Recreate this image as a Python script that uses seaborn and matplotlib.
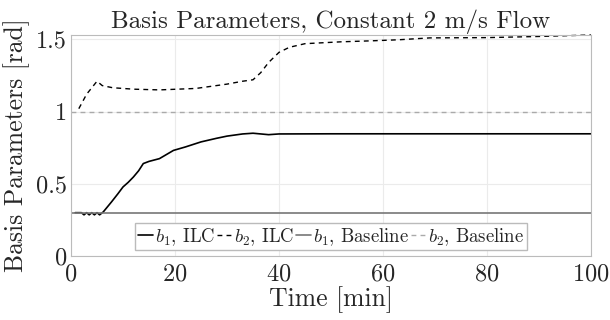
import seaborn as sns
import pandas as pd
import matplotlib.pyplot as plt

sns.set_style("whitegrid")
plt.rcParams['font.family'] = 'serif'
plt.rcParams['font.serif'] = ['cmr10', 'DejaVu Serif']
plt.rcParams['mathtext.fontset'] = 'cm'
plt.rcParams['axes.formatter.use_mathtext'] = True

# b1, ILC (solid black)
t_b1_ilc = [0.8, 2.0, 2.5, 3.0, 3.5, 4.0, 4.5, 5.0, 5.5, 6.2, 7.0, 7.8, 9.0, 10.0, 11.0, 12.0,
            13.0, 13.9, 15.0, 17.0, 19.7, 22.0, 25.0, 28.0, 30.0, 33.0, 35.0, 38.0, 40.0, 50.0,
            60.0, 70.0, 80.0, 90.0, 100.0]
y_b1_ilc = [0.30, 0.30, 0.285, 0.30, 0.285, 0.30, 0.285, 0.30, 0.285, 0.305, 0.34, 0.375, 0.43,
            0.478, 0.51, 0.547, 0.59, 0.64, 0.655, 0.674, 0.731, 0.755, 0.79, 0.815, 0.83, 0.845,
            0.85, 0.84, 0.845, 0.846, 0.846, 0.846, 0.846, 0.846, 0.846]

# b2, ILC (dashed black)
t_b2_ilc = [1.5, 3.0, 5.0, 6.0, 8.0, 12.0, 17.0, 24.0, 30.0, 33.0, 35.0, 36.5, 38.0, 40.0,
            42.0, 45.0, 52.0, 58.0, 63.0, 69.0, 80.0, 90.0, 100.0]
y_b2_ilc = [1.02, 1.12, 1.21, 1.18, 1.165, 1.155, 1.15, 1.16, 1.19, 1.21, 1.22, 1.27, 1.34, 1.41,
            1.445, 1.47, 1.483, 1.49, 1.497, 1.51, 1.512, 1.52, 1.53]

# baselines
t_base = [0.0, 100.0]
y_b1_base = [0.3, 0.3]
y_b2_base = [1.0, 1.0]

df_b1 = pd.DataFrame({'t': t_b1_ilc, 'v': y_b1_ilc})
df_b2 = pd.DataFrame({'t': t_b2_ilc, 'v': y_b2_ilc})
df_b1b = pd.DataFrame({'t': t_base, 'v': y_b1_base})
df_b2b = pd.DataFrame({'t': t_base, 'v': y_b2_base})

fig = plt.figure(figsize=(6.1, 3.2), dpi=100)
ax = fig.add_axes([0.1164, 0.2, 0.8525, 0.6906])

sns.lineplot(data=df_b1, x='t', y='v', ax=ax, color='black', lw=1.2, label='$b_1$, ILC')
sns.lineplot(data=df_b2, x='t', y='v', ax=ax, color='black', lw=1.0, linestyle=(0, (3.5, 3)),
             label='$b_2$, ILC', clip_on=False)
sns.lineplot(data=df_b1b, x='t', y='v', ax=ax, color='#777777', lw=1.2, label='$b_1$, Baseline')
sns.lineplot(data=df_b2b, x='t', y='v', ax=ax, color='#aaaaaa', lw=1.0, linestyle=(0, (3.5, 3)),
             label='$b_2$, Baseline')

ax.set_xlim(0, 100)
ax.set_ylim(0, 1.53)
ax.set_xticks([0, 20, 40, 60, 80, 100])
ax.set_yticks([0, 0.5, 1, 1.5])
ax.set_yticklabels(['0', '0.5', '1', '1.5'])
ax.tick_params(labelsize=17.5, direction='in', length=3, color='#bbbbbb')
ax.tick_params(axis='x', pad=5)
ax.tick_params(axis='y', pad=3)
ax.grid(True, color='#ebebeb', lw=0.8)
for s in ax.spines.values():
    s.set_color('#bbbbbb')
    s.set_linewidth(0.8)

ax.set_title('Basis Parameters, Constant 2 m/s Flow', fontsize=18, pad=5)
ax.set_xlabel('Time [min]', fontsize=18.5, labelpad=1)
ax.set_ylabel('Basis Parameters [rad]', fontsize=18.5, labelpad=4)

ax.legend(loc='lower center', ncol=4, fontsize=13.5, handlelength=0.8, handletextpad=0.1,
          columnspacing=0.1, borderpad=0.15, borderaxespad=0.3, fancybox=False,
          framealpha=1, edgecolor='#bbbbbb')

fig.savefig('out.png', dpi=100)
